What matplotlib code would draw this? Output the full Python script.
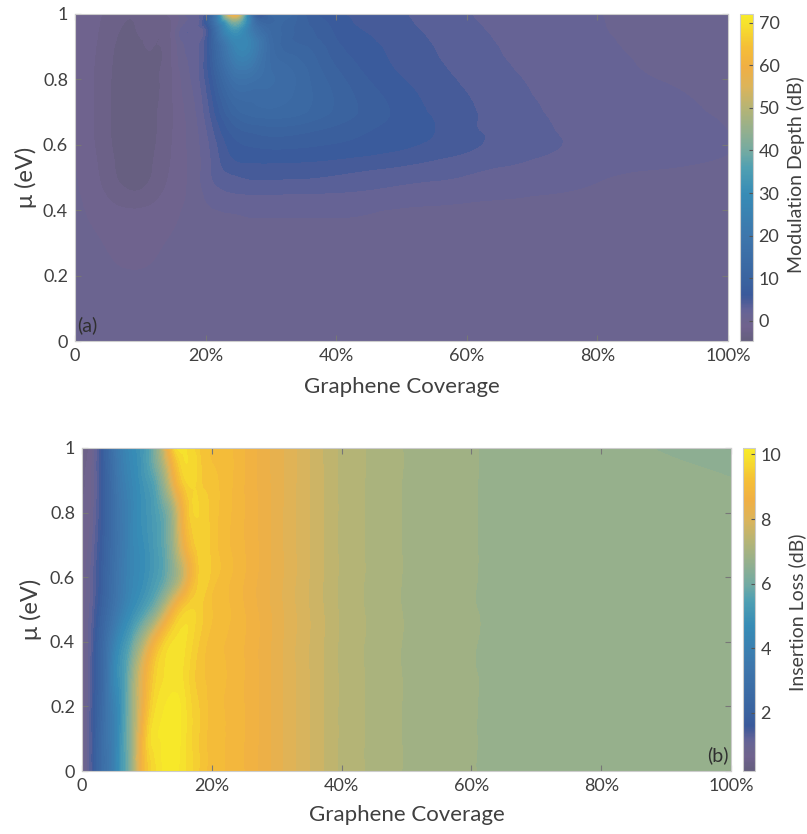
import numpy as np
import matplotlib
matplotlib.use("Agg")
import matplotlib.pyplot as plt
import matplotlib.tri as mtri
from matplotlib.colors import LinearSegmentedColormap, Normalize
from matplotlib.cm import ScalarMappable

plt.rcParams['font.family'] = ['Lato', 'DejaVu Sans']

# ---- panel (a): modulation depth (dB) vs coverage and chemical potential
coverage_a = [0, 0.03, 0.06, 0.09, 0.12, 0.15, 0.18, 0.21, 0.24, 0.27, 0.30,
              0.35, 0.40, 0.45, 0.50, 0.55, 0.60, 0.65, 0.70, 0.80, 0.90, 1.00]
mu_a = [0, 0.1, 0.2, 0.3, 0.4, 0.45, 0.5, 0.55, 0.6, 0.65, 0.7, 0.8, 0.9, 0.95, 1.0]
depth_db = [
    [0.5, 0.5, 0.5, 0.5, 0.5, 0.5, 0.5, 0.5, 0.5, 0.5, 0.5, 0.5, 0.5, 0.5, 0.5, 0.5, 0.5, 0.5, 0.5, 0.5, 0.5, 0.5],
    [0.5, 0.45, 0.4, 0.35, 0.4, 0.45, 0.5, 0.5, 0.5, 0.55, 0.55, 0.55, 0.55, 0.55, 0.55, 0.5, 0.5, 0.5, 0.5, 0.5, 0.5, 0.5],
    [0.5, 0.3, 0.0, -0.1, 0.0, 0.3, 0.5, 0.5, 0.6, 0.6, 0.6, 0.6, 0.6, 0.6, 0.6, 0.6, 0.55, 0.55, 0.5, 0.5, 0.5, 0.5],
    [0.4, 0.0, -0.5, -0.7, -0.5, 0.0, 0.4, 0.6, 0.8, 0.9, 0.9, 0.9, 0.9, 0.85, 0.8, 0.75, 0.7, 0.65, 0.6, 0.55, 0.5, 0.5],
    [0.2, -0.6, -1.3, -1.6, -1.3, -0.6, 0.4, 1.2, 1.4, 1.5, 1.5, 1.5, 1.5, 1.4, 1.2, 1.1, 1.0, 0.9, 0.8, 0.7, 0.6, 0.5],
    [0.0, -1.0, -2.3, -3.0, -2.3, -1.0, 0.3, 2.0, 2.7, 2.85, 2.85, 2.8, 2.7, 2.5, 2.2, 2.0, 1.8, 1.6, 1.4, 1.1, 0.9, 0.7],
    [-0.1, -1.3, -3.0, -3.8, -3.0, -1.3, 0.3, 2.8, 4.0, 4.5, 4.5, 4.4, 4.1, 3.7, 3.3, 3.0, 2.7, 2.4, 2.1, 1.4, 1.15, 0.9],
    [-0.2, -1.5, -3.2, -4.0, -3.2, -1.5, 0.3, 3.0, 5.5, 6.0, 6.0, 5.9, 5.6, 5.2, 4.8, 4.2, 3.6, 3.1, 2.7, 1.9, 1.5, 1.2],
    [-0.3, -1.7, -3.4, -4.2, -3.4, -1.6, 0.4, 3.3, 6.5, 7.5, 7.8, 7.6, 7.2, 6.7, 6.1, 5.5, 4.7, 3.9, 3.3, 2.2, 1.7, 1.35],
    [-0.3, -1.8, -3.5, -4.3, -3.5, -1.7, 0.5, 4.0, 8.0, 9.5, 10.0, 9.5, 8.5, 7.5, 6.6, 5.85, 4.6, 4.0, 3.2, 2.1, 1.6, 1.3],
    [-0.3, -1.8, -3.5, -4.3, -3.5, -1.7, 0.8, 5.0, 10.5, 12.5, 13.0, 12.0, 10.0, 8.3, 6.8, 5.6, 4.6, 3.8, 3.0, 2.0, 1.5, 1.2],
    [-0.3, -1.8, -3.5, -4.2, -3.5, -1.6, 1.5, 7.0, 16.0, 17.0, 15.0, 12.5, 9.5, 7.3, 5.9, 4.9, 4.0, 3.2, 2.6, 1.7, 1.3, 1.1],
    [-0.3, -1.6, -3.2, -3.8, -3.2, -1.4, 2.0, 9.0, 24.0, 25.0, 14.0, 10.5, 7.8, 6.2, 5.2, 4.3, 3.5, 2.8, 2.3, 1.5, 1.2, 1.0],
    [-0.3, -1.4, -2.9, -3.3, -2.9, -1.2, 2.3, 10.0, 32.0, 22.0, 13.0, 9.5, 7.0, 5.7, 4.8, 4.0, 3.2, 2.6, 2.1, 1.4, 1.1, 0.9],
    [-0.3, -1.2, -2.6, -3.1, -2.6, -1.0, 2.5, 11.0, 62.0, 16.0, 12.0, 9.0, 6.2, 5.3, 4.5, 3.7, 2.9, 2.4, 2.0, 1.35, 1.05, 0.8],
]

# ---- panel (b): insertion loss (dB)
coverage_b = [0, 0.01, 0.02, 0.035, 0.05, 0.065, 0.08, 0.10, 0.12, 0.14, 0.16, 0.18,
              0.20, 0.25, 0.30, 0.35, 0.40, 0.50, 0.60, 0.70, 0.80, 0.90, 1.00]
mu_b = [0, 0.1, 0.2, 0.3, 0.4, 0.5, 0.6, 0.7, 0.8, 0.9, 1.0]
loss_db = [
    [0.6, 1.1, 1.8, 3.0, 4.0, 5.5, 7.1, 9.3, 9.9, 10.1, 9.8, 9.4, 9.1, 8.8, 8.3, 7.8, 7.35, 6.98, 6.81, 6.72, 6.7, 6.68, 6.66],
    [0.6, 1.1, 1.8, 3.0, 4.0, 5.5, 7.1, 9.4, 10.0, 10.15, 9.8, 9.4, 9.1, 8.8, 8.3, 7.8, 7.35, 6.98, 6.81, 6.72, 6.7, 6.68, 6.66],
    [0.6, 1.05, 1.75, 2.9, 4.1, 5.4, 7.0, 9.0, 9.9, 10.1, 9.8, 9.4, 9.1, 8.8, 8.3, 7.8, 7.35, 6.98, 6.81, 6.72, 6.7, 6.68, 6.66],
    [0.6, 1.0, 1.7, 2.8, 4.4, 5.4, 6.9, 8.7, 9.7, 9.9, 9.7, 9.3, 9.1, 8.8, 8.3, 7.8, 7.35, 6.98, 6.81, 6.72, 6.7, 6.68, 6.66],
    [0.6, 1.0, 1.6, 2.7, 4.0, 5.0, 6.0, 7.6, 9.1, 9.8, 9.8, 9.4, 9.1, 8.8, 8.3, 7.8, 7.35, 6.98, 6.81, 6.72, 6.7, 6.68, 6.66],
    [0.6, 0.95, 1.4, 2.3, 3.2, 4.1, 4.8, 5.6, 6.8, 8.5, 9.5, 9.5, 9.2, 8.8, 8.3, 7.8, 7.35, 6.98, 6.81, 6.72, 6.7, 6.68, 6.66],
    [0.6, 0.9, 1.3, 2.1, 3.0, 3.8, 4.4, 4.9, 5.5, 6.5, 8.0, 9.4, 9.3, 8.8, 8.3, 7.8, 7.35, 6.98, 6.81, 6.72, 6.7, 6.68, 6.66],
    [0.6, 0.8, 1.2, 2.0, 2.9, 3.7, 4.4, 4.9, 5.5, 6.7, 8.6, 9.5, 9.3, 8.8, 8.3, 7.8, 7.35, 6.98, 6.81, 6.72, 6.7, 6.68, 6.66],
    [0.6, 0.7, 1.1, 1.9, 2.9, 3.7, 4.4, 5.0, 5.6, 6.9, 9.0, 9.6, 9.3, 8.8, 8.3, 7.8, 7.35, 6.98, 6.81, 6.72, 6.7, 6.68, 6.66],
    [0.6, 0.65, 1.05, 1.9, 3.0, 3.9, 4.5, 5.2, 6.2, 8.2, 9.6, 9.5, 9.25, 8.8, 8.3, 7.8, 7.35, 6.98, 6.81, 6.72, 6.7, 6.68, 6.61],
    [0.6, 0.6, 1.0, 2.0, 3.2, 4.1, 4.7, 5.4, 6.9, 9.4, 9.8, 9.4, 9.2, 8.8, 8.3, 7.8, 7.35, 6.98, 6.81, 6.72, 6.7, 6.57, 6.45],
]

x_ticks = [0, 0.2, 0.4, 0.6, 0.8, 1.0]
x_labels = ['0', '20%', '40%', '60%', '80%', '100%']
y_ticks = [0, 0.2, 0.4, 0.6, 0.8, 1.0]
y_labels = ['0', '0.2', '0.4', '0.6', '0.8', '1']

# washed-out parula look
stops = [0.0, 0.022, 0.042, 0.061, 0.081, 0.10, 0.12, 0.14, 0.19, 0.32, 0.45,
         0.53, 0.58, 0.65, 0.71, 0.78, 0.84, 0.90, 0.97, 1.0]
rgb = [(101, 95, 126), (106, 96, 134), (112, 98, 142), (108, 100, 142), (104, 100, 148),
       (95, 98, 152), (75, 92, 152), (58, 90, 155), (58, 100, 160), (62, 118, 172),
       (55, 140, 182), (80, 160, 178), (115, 170, 162), (150, 176, 140), (180, 180, 118),
       (220, 180, 90), (240, 175, 68), (245, 190, 55), (246, 225, 45), (248, 235, 40)]
cmap = LinearSegmentedColormap.from_list(
    'washed_parula', [(s, tuple(c / 255 for c in col)) for s, col in zip(stops, rgb)])
cmap.set_under(np.array(rgb[0]) / 255)
cmap.set_over(np.array(rgb[-1]) / 255)

TXT = '#404040'


def smooth_mesh(xs, ys, zz, subdiv=4):
    # triangulate in index space so uneven node spacing doesn't make skinny triangles
    nx, ny = len(xs), len(ys)
    I, J = np.meshgrid(np.arange(nx), np.arange(ny))
    tris = []
    for j in range(ny - 1):
        for i in range(nx - 1):
            a = j * nx + i
            tris.append([a, a + 1, a + nx + 1])
            tris.append([a, a + nx + 1, a + nx])
    tri = mtri.Triangulation(I.ravel().astype(float), J.ravel().astype(float), tris)
    tri_f, z_f = mtri.UniformTriRefiner(tri).refine_field(np.asarray(zz, float).ravel(),
                                                          subdiv=subdiv)
    x_f = np.interp(tri_f.x, np.arange(nx), xs)
    y_f = np.interp(tri_f.y, np.arange(ny), ys)
    return mtri.Triangulation(x_f, y_f, tri_f.triangles), z_f


def draw_panel(ax, cax, xs, ys, zz, vmin, vmax, nlev, cticks):
    tri_f, z_f = smooth_mesh(xs, ys, zz)
    norm = Normalize(vmin, vmax)
    levels = np.linspace(vmin, vmax, nlev)
    ax.tricontourf(tri_f, z_f, levels=levels, cmap=cmap, norm=norm, extend='both')
    ax.set_xlim(0, 1)
    ax.set_ylim(0, 1)
    ax.set_xticks(x_ticks)
    ax.set_xticklabels(x_labels)
    ax.set_yticks(y_ticks)
    ax.set_yticklabels(y_labels)
    ax.tick_params(direction='in', top=True, right=True, length=4, width=0.8,
                   color='#777777', labelsize=13, labelcolor=TXT, pad=5)
    for sp in ax.spines.values():
        sp.set_edgecolor('#cccccc')
        sp.set_linewidth(0.8)
    ax.set_xlabel('Graphene Coverage', fontsize=16, color=TXT)
    ax.set_ylabel('μ (eV)', fontsize=17, color=TXT)

    cb = plt.gcf().colorbar(ScalarMappable(norm=norm, cmap=cmap), cax=cax)
    cb.set_ticks(cticks)
    cb.outline.set_edgecolor('#cccccc')
    cb.outline.set_linewidth(0.8)
    cax.tick_params(direction='in', length=3, width=0.8, color='#555555',
                    labelsize=13, labelcolor=TXT, pad=4)
    return cb


fig = plt.figure(figsize=(8.07, 8.34), dpi=100)
W, H = 807, 834
ax_a = fig.add_axes([75 / W, (H - 341) / H, 653 / W, 327 / H])
cax_a = fig.add_axes([740 / W, (H - 341) / H, 13 / W, 327 / H])
ax_b = fig.add_axes([82 / W, (H - 771) / H, 649 / W, 323 / H])
cax_b = fig.add_axes([743 / W, (H - 771) / H, 12 / W, 323 / H])

draw_panel(ax_a, cax_a, coverage_a, mu_a, depth_db, -4.7, 72, 52,
           [0, 10, 20, 30, 40, 50, 60, 70])
draw_panel(ax_b, cax_b, coverage_b, mu_b, loss_db, 0.2, 10.2, 51,
           [2, 4, 6, 8, 10])

ax_a.xaxis.set_label_coords(0.5, -0.11)
ax_a.yaxis.set_label_coords(-0.058, 0.5)
ax_b.xaxis.set_label_coords(0.5, -0.105)
ax_b.yaxis.set_label_coords(-0.062, 0.5)

ax_a.text(0.004, 0.02, '(a)', transform=ax_a.transAxes, fontsize=14, color='#303030',
          ha='left', va='bottom')
ax_b.text(0.996, 0.02, '(b)', transform=ax_b.transAxes, fontsize=14, color='#303030',
          ha='right', va='bottom')

fig.text(796 / W, (H - 175) / H, 'Modulation Depth (dB)', rotation=90, fontsize=14,
         color=TXT, ha='center', va='center')
fig.text(797 / W, (H - 612) / H, 'Insertion Loss (dB)', rotation=90, fontsize=14,
         color=TXT, ha='center', va='center')

fig.savefig('out.png', dpi=100, facecolor='white')
